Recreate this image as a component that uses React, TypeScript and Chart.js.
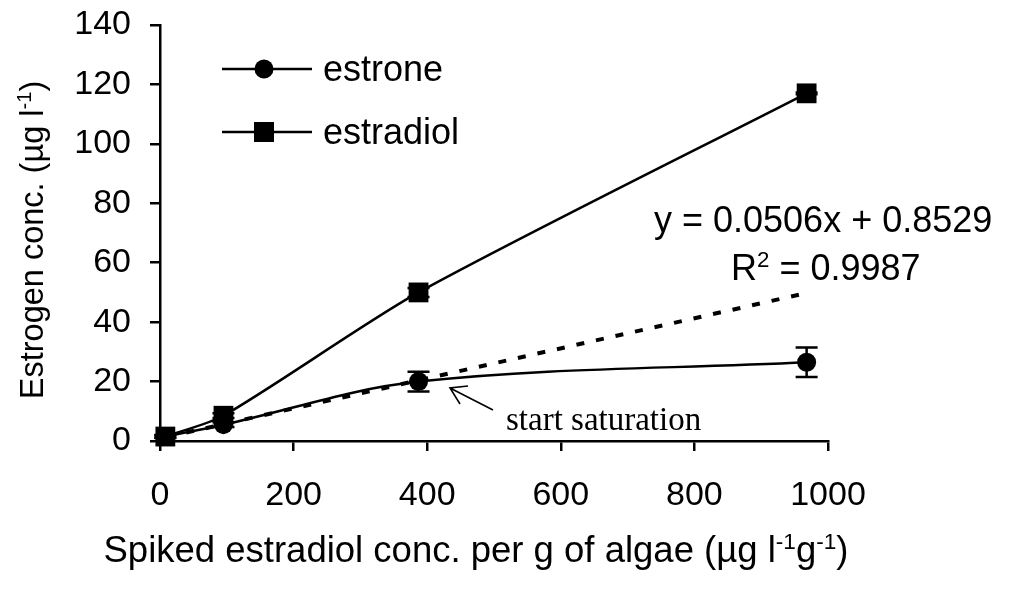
import React, { useEffect, useRef } from "react";
import { Chart, registerables } from "chart.js";

Chart.register(...registerables);

// ---- data ----
const spikedX = [8, 95, 387, 968];
const estroneY = [1.5, 5.5, 20, 26.5];
const estroneErr = [0.5, 0.8, 3.3, 5];
const estradiolY = [1.5, 8.5, 50, 117];
const estradiolErr = [0.4, 0.8, 1.5, 0.3];
const trendX = [10, 968];
const trendY = [1.36, 49.8];
const xTickValues = [0, 200, 400, 600, 800, 1000];
const yTickValues = [0, 20, 40, 60, 80, 100, 120, 140];
const seriesNames = ["estrone", "estradiol"];
const equationText = "y = 0.0506x + 0.8529";
const r2Text = " = 0.9987";
const annotationText = "start saturation";

const SANS = '"Liberation Sans", Arial, sans-serif';
const SERIF = '"Liberation Serif", "Times New Roman", serif';

type Run = { t: string; sup?: boolean };

function drawRuns(
  ctx: CanvasRenderingContext2D,
  runs: Run[],
  x: number,
  y: number,
  size: number,
  family: string,
  align: "left" | "center"
) {
  const supSize = size * 0.62;
  let w = 0;
  for (const r of runs) {
    ctx.font = `${r.sup ? supSize : size}px ${family}`;
    w += ctx.measureText(r.t).width;
  }
  let cx = align === "center" ? x - w / 2 : x;
  ctx.textAlign = "left";
  ctx.textBaseline = "alphabetic";
  for (const r of runs) {
    ctx.font = `${r.sup ? supSize : size}px ${family}`;
    ctx.fillText(r.t, cx, r.sup ? y - size * 0.36 : y);
    cx += ctx.measureText(r.t).width;
  }
}

const overlayPlugin = {
  id: "overlay",
  beforeDatasetsDraw(chart: any) {
    const ctx: CanvasRenderingContext2D = chart.ctx;
    const xs = chart.scales.x;
    const ys = chart.scales.y;
    ctx.save();
    ctx.strokeStyle = "#000";
    ctx.lineWidth = 2.5;
    const bars = [
      { v: estroneY, e: estroneErr },
      { v: estradiolY, e: estradiolErr },
    ];
    for (const b of bars) {
      spikedX.forEach((xv, i) => {
        const px = xs.getPixelForValue(xv);
        const top = ys.getPixelForValue(b.v[i] + b.e[i]);
        const bot = ys.getPixelForValue(b.v[i] - b.e[i]);
        ctx.beginPath();
        ctx.moveTo(px, top);
        ctx.lineTo(px, bot);
        ctx.moveTo(px - 11, top);
        ctx.lineTo(px + 11, top);
        ctx.moveTo(px - 11, bot);
        ctx.lineTo(px + 11, bot);
        ctx.stroke();
      });
    }
    ctx.restore();
  },
  afterDraw(chart: any) {
    const ctx: CanvasRenderingContext2D = chart.ctx;
    ctx.save();
    ctx.fillStyle = "#000";
    ctx.strokeStyle = "#000";

    // axis titles
    drawRuns(
      ctx,
      [
        { t: "Spiked estradiol conc. per g of algae (\u00b5g l" },
        { t: "-1", sup: true },
        { t: "g" },
        { t: "-1", sup: true },
        { t: ")" },
      ],
      476,
      562,
      36.5,
      SANS,
      "center"
    );
    ctx.save();
    ctx.translate(43, 240);
    ctx.rotate(-Math.PI / 2);
    drawRuns(
      ctx,
      [{ t: "Estrogen conc. (\u00b5g l" }, { t: "-1", sup: true }, { t: ")" }],
      0,
      0,
      32.5,
      SANS,
      "center"
    );
    ctx.restore();

    // regression text
    drawRuns(ctx, [{ t: equationText }], 654, 232, 36, SANS, "left");
    drawRuns(ctx, [{ t: "R" }, { t: "2", sup: true }, { t: r2Text }], 731, 280, 36, SANS, "left");

    // annotation
    drawRuns(ctx, [{ t: annotationText }], 506, 430, 33, SERIF, "left");
    ctx.lineWidth = 1.6;
    ctx.beginPath();
    ctx.moveTo(493, 410);
    ctx.lineTo(450, 388);
    ctx.moveTo(468, 386);
    ctx.lineTo(450, 388);
    ctx.lineTo(460, 404);
    ctx.stroke();

    // legend
    ctx.lineWidth = 2.5;
    const rows = [
      { y: 69, style: "circle" },
      { y: 132, style: "rect" },
    ];
    rows.forEach((r, i) => {
      ctx.beginPath();
      ctx.moveTo(222, r.y);
      ctx.lineTo(312, r.y);
      ctx.stroke();
      ctx.beginPath();
      if (r.style === "circle") {
        ctx.arc(264, r.y, 9.5, 0, Math.PI * 2);
      } else {
        ctx.rect(254, r.y - 10, 20, 20);
      }
      ctx.fill();
      ctx.font = `36px ${SANS}`;
      ctx.textAlign = "left";
      ctx.textBaseline = "middle";
      ctx.fillText(seriesNames[i], 323, r.y + 2);
    });
    ctx.restore();
  },
};

export default function App() {
  const ref = useRef<HTMLCanvasElement | null>(null);

  useEffect(() => {
    if (!ref.current) return;
    const chart = new Chart(ref.current, {
      type: "line",
      data: {
        datasets: [
          {
            label: seriesNames[0],
            data: spikedX.map((x, i) => ({ x, y: estroneY[i] })),
            borderColor: "#000",
            backgroundColor: "#000",
            borderWidth: 2.5,
            pointStyle: "circle",
            pointRadius: 9.5,
            pointBorderWidth: 0,
            tension: 0.35,
            clip: false,
          },
          {
            label: seriesNames[1],
            data: spikedX.map((x, i) => ({ x, y: estradiolY[i] })),
            borderColor: "#000",
            backgroundColor: "#000",
            borderWidth: 2.5,
            pointStyle: "rect",
            pointRadius: 14,
            pointBorderWidth: 0,
            tension: 0.25,
            clip: false,
          },
          {
            label: "trend",
            data: trendX.map((x, i) => ({ x, y: trendY[i] })),
            borderColor: "#000",
            borderWidth: 4,
            borderDash: [8, 12],
            pointRadius: 0,
            tension: 0,
            clip: false,
          },
        ],
      },
      options: {
        responsive: false,
        animation: false,
        devicePixelRatio: 1,
        layout: { padding: { left: 0, top: 25, right: 185, bottom: 0 } },
        plugins: {
          legend: { display: false },
          tooltip: { enabled: false },
          title: { display: false },
        },
        scales: {
          x: {
            type: "linear",
            min: 0,
            max: 1000,
            afterFit: (s: any) => {
              s.height = 151;
              s.paddingLeft = 0;
              s.paddingRight = 0;
            },
            afterBuildTicks: (s: any) => {
              s.ticks = xTickValues.map((v) => ({ value: v }));
            },
            border: { display: true, color: "#000", width: 2.5 },
            grid: {
              display: true,
              drawOnChartArea: false,
              drawTicks: true,
              tickLength: 10,
              color: "#000",
              lineWidth: 2.5,
            },
            ticks: {
              color: "#000",
              font: { family: SANS, size: 34 },
              padding: 24,
              maxRotation: 0,
              callback: (v: any) => String(v),
            },
          },
          y: {
            type: "linear",
            min: 0,
            max: 140,
            afterFit: (s: any) => {
              s.width = 160;
              s.paddingTop = 0;
              s.paddingBottom = 0;
            },
            afterBuildTicks: (s: any) => {
              s.ticks = yTickValues.map((v) => ({ value: v }));
            },
            border: { display: true, color: "#000", width: 2.5 },
            grid: {
              display: true,
              drawOnChartArea: false,
              drawTicks: true,
              tickLength: 10,
              color: "#000",
              lineWidth: 2.5,
            },
            ticks: {
              color: "#000",
              font: { family: SANS, size: 34 },
              padding: 19,
              callback: (v: any) => String(v),
            },
          },
        },
      },
      plugins: [overlayPlugin],
    });
    return () => chart.destroy();
  }, []);

  return (
    <div
      style={{
        position: "absolute",
        left: 0,
        top: 0,
        width: 1013,
        height: 592,
        background: "#fff",
      }}
    >
      <canvas ref={ref} width={1013} height={592} />
    </div>
  );
}
